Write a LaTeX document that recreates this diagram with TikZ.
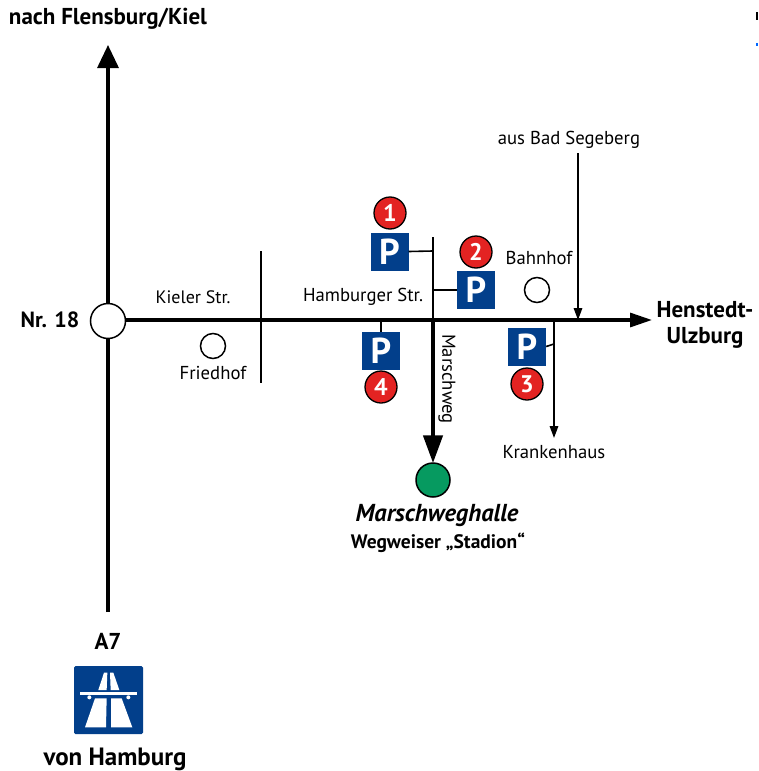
\documentclass[tikz,border=0pt]{standalone}
\usepackage{fontspec}
\setmainfont{PT Sans}
\usetikzlibrary{arrows.meta}
\definecolor{signblue}{HTML}{023F8B}
\definecolor{badgered}{HTML}{E32322}
\definecolor{hallgreen}{HTML}{069A60}
\tikzset{
  lbl/.style={inner sep=0pt,font=\fontsize{18.7}{20}\selectfont},
  blbl/.style={inner sep=0pt,font=\fontsize{23}{25}\selectfont\bfseries},
  ring/.style={circle,draw=black,fill=white,line width=1.5pt,inner sep=0pt},
  psign/.style={fill=signblue,text=white,inner sep=0pt,minimum width=38pt,minimum height=38pt,font=\fontsize{36}{36}\selectfont\bfseries},
  badge/.style={circle,draw=black,fill=badgered,text=white,line width=1.3pt,inner sep=0pt,minimum size=32pt,font=\fontsize{24}{24}\selectfont\bfseries},
  thinroad/.style={line width=1.6pt},
  mainroad/.style={line width=3.2pt},
  thinarrow/.style={line width=1.6pt,-{Triangle[length=12pt,width=8.5pt]}},
}
\begin{document}
\begin{tikzpicture}[x=1pt,y=-1pt]
\useasboundingbox (0,0) rectangle (758,771);
\fill[white] (0,0) rectangle (758,771);
% free ends
\coordinate (a7south) at (108,612);
\coordinate (a7north) at (108,45);
\coordinate (mainend) at (652,320);
\coordinate (kielN) at (261,251);
\coordinate (kielS) at (261,383);
\coordinate (marTop) at (433,237);
\coordinate (marJ) at (433,320);
\coordinate (p1J) at (433,251);
\coordinate (p2J) at (433,290);
\coordinate (p3J) at (554,344);
\coordinate (p4J) at (381,320);
\coordinate (krJ) at (554,320);
\coordinate (krEnd) at (554,438);
\coordinate (segTop) at (578,153);
\coordinate (segEnd) at (578,320);
% roads
\draw[line width=3.2pt,-{Triangle[length=23pt,width=21pt]}] (a7south) -- (a7north);
\draw[mainroad,-{Triangle[length=22pt,width=14pt]}] (108,320) -- (mainend);
\draw[thinroad] (kielN) -- (kielS);
\draw[thinroad] (marTop) -- (marJ);
\draw[thinarrow] (segTop) -- (segEnd);
\draw[thinarrow] (krJ) -- (krEnd);
% nodes
\node[ring,minimum size=35pt] (nr18c) at (108,321) {};
\node[ring,minimum size=25pt] (friedhofc) at (213,346) {};
\node[ring,minimum size=25pt] (bahnhofc) at (537,290) {};
\node[circle,draw=black,fill=hallgreen,line width=1.5pt,inner sep=0pt,minimum size=34pt] (halle) at (433,480) {};
\draw[line width=4.5pt,-{Triangle[length=28pt,width=19pt]}] (marJ) -- ([yshift=-1pt]halle.north);
% parking
\node[psign] (p1) at (389.5,251.5) {P};
\node[psign] (p2) at (476,290) {P};
\node[psign] (p3) at (527,346.5) {P};
\node[psign] (p4) at (381,351) {P};
\draw[thinroad] (p1.east) -- (p1J);
\draw[thinroad] (p2.west) -- (p2J);
\draw[thinroad] (p3.east) -- (p3J);
\draw[thinroad] (p4.north) -- (p4J);
\node[badge] (b1) at (390,213) {1};
\node[badge] (b2) at (476,252) {2};
\node[badge] (b3) at (527,384) {3};
\node[badge] (b4) at (381,387) {4};
% labels
\node[blbl] (tnorth) at (108,19) {nach Flensburg/Kiel};
\node[blbl,font=\fontsize{22}{24}\selectfont\bfseries] (tnr) at (50,320) {Nr. 18};
\node[blbl,align=center] (thenst) at (705,325) {Henstedt-\\[1pt]Ulzburg};
\node[lbl,font=\fontsize{18}{20}\selectfont] (tkiel) at (193,297) {Kieler Str.};
\node[lbl] (thamb) at (363,297) {Hamburger Str.};
\node[lbl] (tfried) at (213,373) {Friedhof};
\node[lbl] (tbahn) at (539,258) {Bahnhof};
\node[lbl] (tseg) at (569,140) {aus Bad Segeberg};
\node[lbl] (tkrank) at (554,452) {Krankenhaus};
\node[lbl,rotate=-90] (tmar) at (447,379) {Marschweg};
\node[inner sep=0pt,font=\fontsize{24.5}{26}\selectfont\bfseries\itshape] (thalle) at (437,516) {Marschweghalle};
\node[inner sep=0pt,font=\fontsize{19.5}{21}\selectfont\bfseries] (tweg) at (438,543) {Wegweiser „Stadion“};
\node[blbl] (ta7) at (108,641) {A7};
\node[blbl,anchor=base,font=\fontsize{25}{27}\selectfont\bfseries] (tvon) at (115,765) {von Hamburg};
% motorway sign
\begin{scope}[shift={(30,600)},x=0.33333pt,y=-0.33333pt]
\fill[signblue,rounded corners=1.5pt] (132,198) rectangle (339,402);
\fill[white] (205,270) -- (222,218) -- (232,218) -- (230,270) -- cycle;
\fill[white] (242,270) -- (240,218) -- (250,218) -- (268,270) -- cycle;
\fill[white] (150,276) rectangle (322,286);
\fill[white] (178,292) circle (6);
\fill[white] (295,292) circle (6);
\fill[white] (165,382) -- (195,295) -- (230,295) -- (228,382) -- cycle;
\fill[white] (243,295) -- (275,295) -- (307,382) -- (243,382) -- cycle;
\end{scope}
% edge specks at the right margin
\fill[black] (756,12) rectangle (758,20);
\fill[blue!60!cyan] (756,43) rectangle (758,45.5);
\end{tikzpicture}
\end{document}
